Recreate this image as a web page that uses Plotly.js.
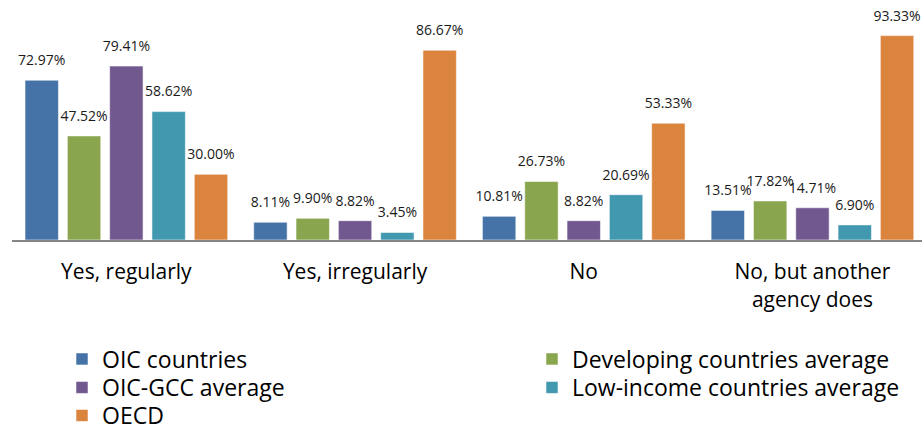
<!DOCTYPE html>
<html>
<head>
<meta charset="utf-8">
<script src="https://cdn.plot.ly/plotly-3.0.1.min.js"></script>
<style>html,body{margin:0;padding:0;background:#fff;}#chart{width:922px;height:428px;}</style>
</head>
<body>
<div id="chart"></div>
<script>
const categories = ["Yes, regularly", "Yes, irregularly", "No", "No, but another<br>agency does"];
const seriesNames = ["OIC countries", "Developing countries average", "OIC-GCC average", "Low-income countries average", "OECD"];
const oicCountries = [72.97, 8.11, 10.81, 13.51];
const developingAvg = [47.52, 9.90, 26.73, 17.82];
const oicGccAvg = [79.41, 8.82, 8.82, 14.71];
const lowIncomeAvg = [58.62, 3.45, 20.69, 6.90];
const oecd = [30.00, 86.67, 53.33, 93.33];
const seriesValues = [oicCountries, developingAvg, oicGccAvg, lowIncomeAvg, oecd];
const colors = ["#4572A7", "#89A54E", "#71588F", "#4198AF", "#DB843D"];

const FONT = "Open Sans, Noto Sans, sans-serif";
const BARGAP = 0.075;
const LEGEND_FONT = {family: FONT, size: 23, color: "#000"};
// legend slots (one legend per entry, laid out in two columns)
const legendIds = ["legend", "legend2", "legend3", "legend4", "legend5"];
const legendCol = [0, 1, 0, 1, 0];
const legendRow = [0, 0, 1, 1, 2];
const colX = [62, 532];
const rowTop = [337.5, 366, 394];

const traces = [];
seriesValues.forEach((vals, i) => {
  traces.push({
    type: "bar",
    name: seriesNames[i],
    x: categories,
    y: vals,
    marker: {color: colors[i], line: {color: "rgba(255,255,255,0.55)", width: 1}},
    legend: legendIds[i],
    hoverinfo: "skip"
  });
});
seriesValues.forEach((vals, i) => {
  traces.push({
    type: "scatter",
    mode: "markers+text",
    x: categories,
    y: vals,
    text: vals.map(v => v.toFixed(2) + "%"),
    textposition: "top center",
    textfont: {family: FONT, size: 14, color: "#1a1a1a"},
    marker: {size: 17, opacity: 0, color: colors[i]},
    cliponaxis: false,
    showlegend: false,
    hoverinfo: "skip"
  });
});

const layout = {
  width: 922, height: 428,
  margin: {l: 12, r: 0, t: 21, b: 188, autoexpand: false},
  paper_bgcolor: "#fff", plot_bgcolor: "#fff",
  barmode: "group",
  bargap: BARGAP,
  bargroupgap: 0.21,
  scattermode: "group",
  scattergap: BARGAP,
  font: {family: FONT, color: "#000"},
  xaxis: {
    type: "category",
    range: [-0.5, 3.479],
    showline: true, linecolor: "#868686", linewidth: 2,
    ticks: "", showgrid: false, zeroline: false,
    tickfont: {family: FONT, size: 21, color: "#000"},
    ticklabelstandoff: 12,
    fixedrange: true
  },
  yaxis: {
    range: [0, 100],
    showgrid: false, zeroline: false, showline: false, showticklabels: false, ticks: "",
    fixedrange: true
  },
  showlegend: true
};
legendIds.forEach((id, i) => {
  layout[id] = {
    xref: "container", yref: "container",
    x: colX[legendCol[i]] / 922, y: 1 - rowTop[legendRow[i]] / 428,
    xanchor: "left", yanchor: "top",
    orientation: "v",
    font: LEGEND_FONT,
    bgcolor: "rgba(0,0,0,0)"
  };
});

Plotly.newPlot("chart", traces, layout, {displayModeBar: false, staticPlot: true});
</script>
</body>
</html>
